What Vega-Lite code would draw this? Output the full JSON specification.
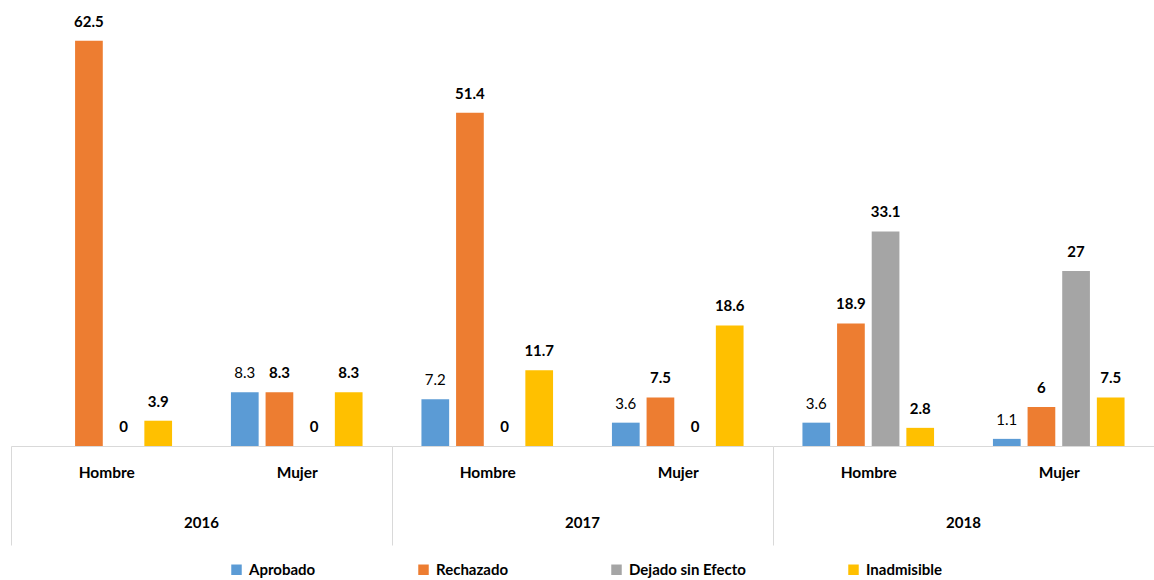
{
  "$schema": "https://vega.github.io/schema/vega-lite/v6.json",
  "padding": {"left": 10, "top": 0, "right": 0, "bottom": 2},
  "config": {
    "view": {"stroke": null},
    "font": "Lato",
    "axis": {"domainColor": "#d9d9d9"}
  },
  "data": {
    "values": [
      {"year": "2016", "gender": "Hombre", "series": "Rechazado", "value": 62.5},
      {"year": "2016", "gender": "Hombre", "series": "Dejado sin Efecto", "value": 0},
      {"year": "2016", "gender": "Hombre", "series": "Inadmisible", "value": 3.9},
      {"year": "2016", "gender": "Mujer", "series": "Aprobado", "value": 8.3},
      {"year": "2016", "gender": "Mujer", "series": "Rechazado", "value": 8.3},
      {"year": "2016", "gender": "Mujer", "series": "Dejado sin Efecto", "value": 0},
      {"year": "2016", "gender": "Mujer", "series": "Inadmisible", "value": 8.3},
      {"year": "2017", "gender": "Hombre", "series": "Aprobado", "value": 7.2},
      {"year": "2017", "gender": "Hombre", "series": "Rechazado", "value": 51.4},
      {"year": "2017", "gender": "Hombre", "series": "Dejado sin Efecto", "value": 0},
      {"year": "2017", "gender": "Hombre", "series": "Inadmisible", "value": 11.7},
      {"year": "2017", "gender": "Mujer", "series": "Aprobado", "value": 3.6},
      {"year": "2017", "gender": "Mujer", "series": "Rechazado", "value": 7.5},
      {"year": "2017", "gender": "Mujer", "series": "Dejado sin Efecto", "value": 0},
      {"year": "2017", "gender": "Mujer", "series": "Inadmisible", "value": 18.6},
      {"year": "2018", "gender": "Hombre", "series": "Aprobado", "value": 3.6},
      {"year": "2018", "gender": "Hombre", "series": "Rechazado", "value": 18.9},
      {"year": "2018", "gender": "Hombre", "series": "Dejado sin Efecto", "value": 33.1},
      {"year": "2018", "gender": "Hombre", "series": "Inadmisible", "value": 2.8},
      {"year": "2018", "gender": "Mujer", "series": "Aprobado", "value": 1.1},
      {"year": "2018", "gender": "Mujer", "series": "Rechazado", "value": 6},
      {"year": "2018", "gender": "Mujer", "series": "Dejado sin Efecto", "value": 27},
      {"year": "2018", "gender": "Mujer", "series": "Inadmisible", "value": 7.5}
    ]
  },
  "spacing": 0,
  "facet": {
    "column": {
      "field": "year",
      "type": "ordinal",
      "header": {
        "title": null,
        "labelOrient": "bottom",
        "labelFontWeight": "bold",
        "labelFontSize": 15,
        "labelColor": "#000000",
        "labelPadding": -30
      }
    }
  },
  "spec": {
    "width": 381,
    "height": 446,
    "encoding": {
      "x": {
        "field": "gender",
        "type": "nominal",
        "scale": {"paddingInner": 0, "paddingOuter": 0},
        "axis": {
          "title": null,
          "labelAngle": 0,
          "labelFontSize": 15.5,
          "labelFontWeight": "bold",
          "labelColor": "#000000",
          "tickBand": "extent",
          "tickSize": 99,
          "tickColor": {"condition": {"test": "datum.value != null", "value": "transparent"}, "value": "#d9d9d9"},
          "labelPadding": -80
        }
      },
      "xOffset": {
        "field": "series",
        "type": "nominal",
        "scale": {
          "domain": ["Aprobado", "Rechazado", "Dejado sin Efecto", "Inadmisible"],
          "paddingInner": 0.2,
          "paddingOuter": 0.85
        }
      },
      "y": {
        "field": "value",
        "type": "quantitative",
        "scale": {"domain": [0, 68.8]},
        "axis": null
      }
    },
    "layer": [
      {
        "mark": {"type": "bar"},
        "encoding": {
          "color": {
            "field": "series",
            "type": "nominal",
            "scale": {
              "domain": ["Aprobado", "Rechazado", "Dejado sin Efecto", "Inadmisible"],
              "range": ["#5B9BD5", "#ED7D31", "#A5A5A5", "#FFC000"]
            },
            "legend": {
              "title": null,
              "orient": "none",
              "legendX": 218,
              "legendY": 562,
              "direction": "horizontal",
              "columnPadding": 100,
              "symbolType": "square",
              "symbolSize": 110,
              "symbolStrokeWidth": 0,
              "labelOffset": 5,
              "labelFontSize": 15,
              "labelFontWeight": "bold",
              "labelColor": "#000000"
            }
          }
        }
      },
      {
        "transform": [{"filter": "datum.series === 'Aprobado'"}],
        "mark": {"type": "text", "baseline": "alphabetic", "dy": -14, "fontSize": 15, "fontWeight": "normal", "color": "#000000"},
        "encoding": {"text": {"field": "value", "type": "quantitative"}}
      },
      {
        "transform": [{"filter": "datum.series !== 'Aprobado'"}],
        "mark": {"type": "text", "baseline": "alphabetic", "dy": -14, "fontSize": 15, "fontWeight": "bold", "color": "#000000"},
        "encoding": {"text": {"field": "value", "type": "quantitative"}}
      }
    ]
  }
}
